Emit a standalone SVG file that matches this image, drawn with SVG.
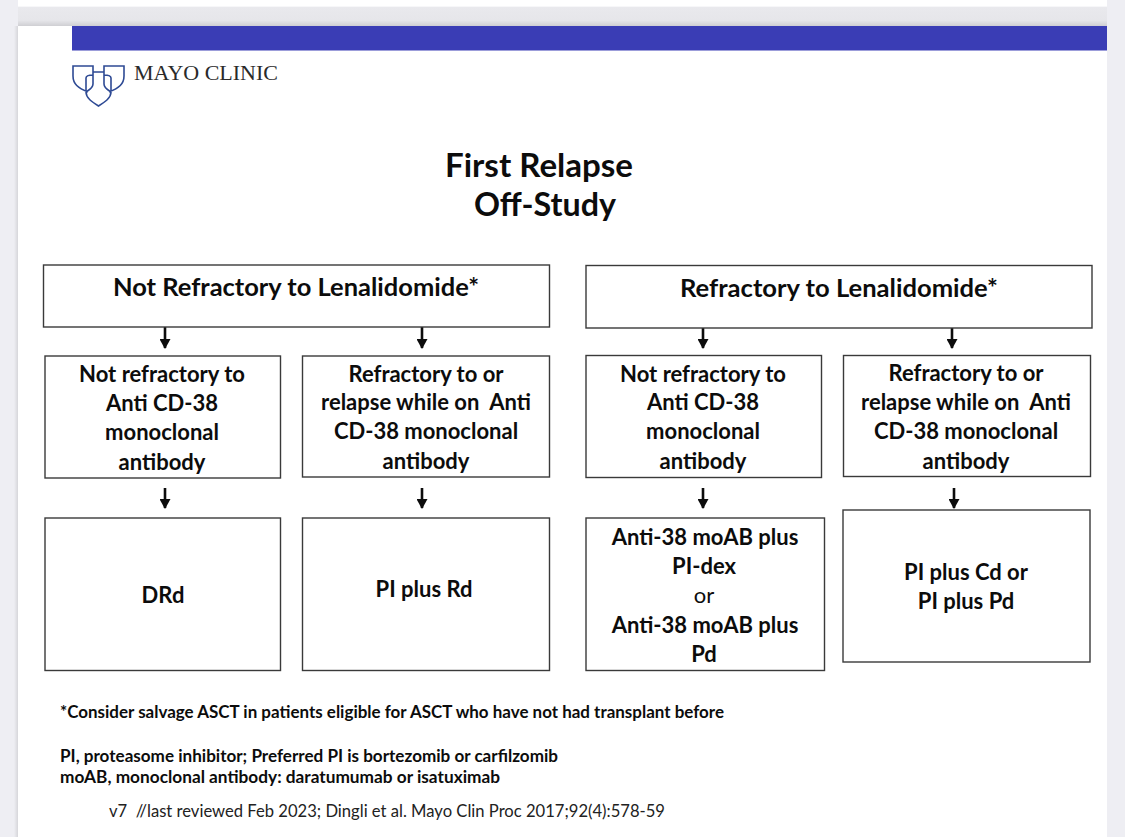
<svg xmlns="http://www.w3.org/2000/svg" width="1125" height="837" viewBox="0 0 1125 837">
<style>
text{font-family:Lato,"Open Sans","Liberation Sans",sans-serif;fill:#0c0c0c;text-anchor:middle}
.b{font-weight:700;font-size:22px}
.h{font-weight:700;font-size:24px}
.t{font-weight:700;font-size:32px}
.f{font-weight:700;font-size:16.500px;text-anchor:start}
.r{font-size:17px;text-anchor:start;fill:#222}
.box{fill:#fff;stroke:#3a3a3a;stroke-width:1.4}
.arr{stroke:#0c0c0c;stroke-width:2.6;fill:none;marker-end:url(#ah)}
.logo{fill:none;stroke:#2e4a94;stroke-width:1.6}
</style>
<defs>
<linearGradient id="sh" x1="0" y1="0" x2="0" y2="1"><stop offset="0" stop-color="#e9e9ed"/><stop offset="0.7" stop-color="#e6e6ea"/><stop offset="1" stop-color="#cfcfd3"/></linearGradient>
<linearGradient id="sl" x1="0" y1="0" x2="1" y2="0"><stop offset="0" stop-color="#eeeef3"/><stop offset="1" stop-color="#d6d6da"/></linearGradient>
<marker id="ah" markerUnits="userSpaceOnUse" markerWidth="11" markerHeight="10" refX="5.500" refY="9" orient="0" viewBox="0 0 11 10"><path d="M0 0L11 0L5.500 10Z" fill="#0c0c0c"/></marker>
</defs>
<rect width="1125" height="837" fill="#eeeef3"/>
<rect x="18" y="7" width="1089" height="19" fill="url(#sh)"/>
<rect x="14" y="26" width="4" height="811" fill="url(#sl)"/>
<rect x="18" y="0" width="1089" height="6.500" fill="#fff"/>
<rect x="18" y="26" width="1089" height="811" fill="#fff"/>
<rect x="72" y="26" width="1035" height="24.500" fill="#3a3db5"/>
<g id="logo">
<path class="logo" d="M88 92C78 88 73 84 73 76V66H93V72M109 92C119 88 124 84 124 76V66H104V72M93 72H104M86 92V78C86 76 88 75 93 75M111 92V78C111 76 109 75 104 75M104 72V84C104 88 108 90 111 92M93 72V84C93 88 89 90 86 92M86 92C86 98 92 102 98.500 106C105 102 111 98 111 92"/>
<text x="134" y="80" style="text-anchor:start;font-family:'Liberation Serif',serif;font-size:22px;fill:#2a2a2a" textLength="144" lengthAdjust="spacingAndGlyphs">MAYO CLINIC</text>
</g>
<g id="title">
<text class="t" x="539" y="177" textLength="188" lengthAdjust="spacingAndGlyphs">First Relapse</text>
<text class="t" x="545" y="216" textLength="142" lengthAdjust="spacingAndGlyphs">Off-Study</text>
</g>
<g id="connectors">
<path class="arr" d="M165 327V348"/>
<path class="arr" d="M422 327V348"/>
<path class="arr" d="M703 328V348"/>
<path class="arr" d="M952 328V348"/>
<path class="arr" d="M165 488V508"/>
<path class="arr" d="M422 488V508"/>
<path class="arr" d="M703 488V508"/>
<path class="arr" d="M954 488V508"/>
</g>
<g id="n1"><rect class="box" x="43.500" y="265" width="506" height="62"/><text class="h" x="296" y="296" textLength="366" lengthAdjust="spacingAndGlyphs">Not Refractory to Lenalidomide*</text></g>
<g id="n2"><rect class="box" x="586" y="265.500" width="506" height="62.500"/><text class="h" x="839" y="297" textLength="318" lengthAdjust="spacingAndGlyphs">Refractory to Lenalidomide*</text></g>
<g id="n3"><rect class="box" x="45" y="356" width="235.500" height="122"/>
<text class="b" x="162" y="382">Not refractory to</text><text class="b" x="162" y="411">Anti CD-38</text><text class="b" x="162" y="440">monoclonal</text><text class="b" x="162" y="470">antibody</text></g>
<g id="n4"><rect class="box" x="302.500" y="356" width="247" height="121"/>
<text class="b" x="426" y="382">Refractory to or</text><text class="b" x="426" y="410" xml:space="preserve">relapse while on  Anti</text><text class="b" x="426" y="439">CD-38 monoclonal</text><text class="b" x="426" y="469">antibody</text></g>
<g id="n5"><rect class="box" x="586" y="355.500" width="235.500" height="122"/>
<text class="b" x="703" y="382">Not refractory to</text><text class="b" x="703" y="410">Anti CD-38</text><text class="b" x="703" y="439">monoclonal</text><text class="b" x="703" y="469">antibody</text></g>
<g id="n6"><rect class="box" x="843.500" y="355.500" width="247" height="121"/>
<text class="b" x="966" y="381">Refractory to or</text><text class="b" x="966" y="410" xml:space="preserve">relapse while on  Anti</text><text class="b" x="966" y="439">CD-38 monoclonal</text><text class="b" x="966" y="469">antibody</text></g>
<g id="n7"><rect class="box" x="45" y="518" width="235.500" height="152.500"/><text class="b" x="163" y="603">DRd</text></g>
<g id="n8"><rect class="box" x="302.500" y="518" width="247" height="152.500"/><text class="b" x="424" y="597">PI plus Rd</text></g>
<g id="n9"><rect class="box" x="586" y="518" width="238.500" height="152.500"/>
<text class="b" x="705" y="545">Anti-38 moAB plus</text><text class="b" x="704" y="574">PI-dex</text><text class="b" x="704" y="603" style="font-weight:400">or</text><text class="b" x="705" y="633">Anti-38 moAB plus</text><text class="b" x="704" y="662">Pd</text></g>
<g id="n10"><rect class="box" x="843" y="510" width="247" height="152"/><text class="b" x="966" y="580">PI plus Cd or</text><text class="b" x="966" y="609">PI plus Pd</text></g>
<g id="notes">
<text class="f" x="60" y="718" textLength="664" lengthAdjust="spacingAndGlyphs">*Consider salvage ASCT in patients eligible for ASCT who have not had transplant before</text>
<text class="f" x="60" y="762" textLength="498" lengthAdjust="spacingAndGlyphs">PI, proteasome inhibitor; Preferred PI is bortezomib or carfilzomib</text>
<text class="f" x="60" y="783" textLength="440" lengthAdjust="spacingAndGlyphs">moAB, monoclonal antibody: daratumumab or isatuximab</text>
<text class="r" x="109" y="817" textLength="556" lengthAdjust="spacingAndGlyphs" xml:space="preserve">v7  //last reviewed Feb 2023; Dingli et al. Mayo Clin Proc 2017;92(4):578-59</text>
</g>
</svg>
